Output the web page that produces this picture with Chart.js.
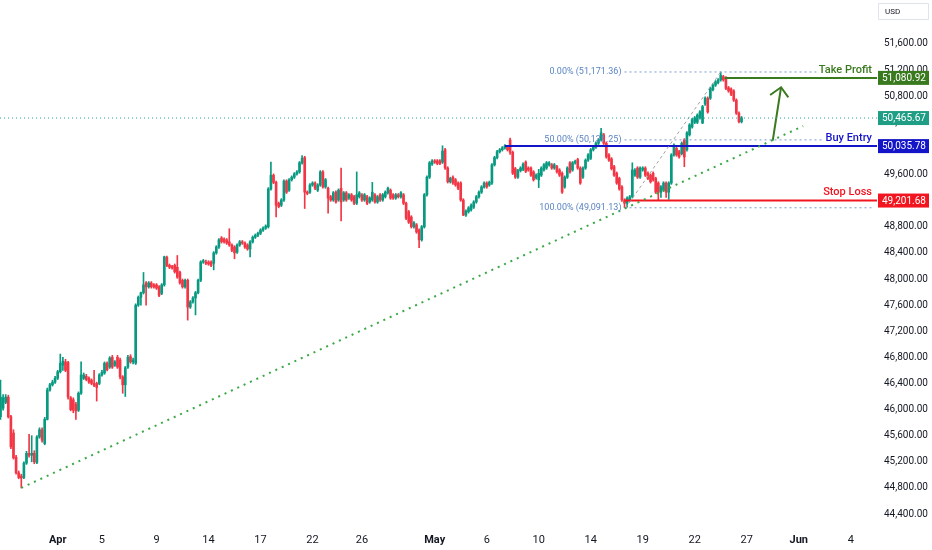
<!DOCTYPE html>
<html>
<head>
<meta charset="utf-8">
<script src="https://cdn.jsdelivr.net/npm/chart.js@4.4.1/dist/chart.umd.min.js"></script>
<style>
  html, body { margin: 0; padding: 0; background: #ffffff; }
  #wrap { width: 932px; height: 550px; position: relative; }
</style>
</head>
<body>
<div id="wrap"><canvas id="chart"></canvas></div>
<script>
// 4h candles (index = candle number)
const opens = [
  45890,46020,46110,46190,45890,45640,45270,45030,44980,44960,
  45180,45330,45300,45330,45190,45580,45690,45480,45850,46300,
  46380,46420,46480,46580,46680,46730,46720,46180,46150,46080,
  45990,46250,46480,46510,46480,46450,46400,46400,46400,46530,
  46560,46710,46650,46800,46680,46800,46760,46500,46380,46650,
  46810,46730,46710,47600,47720,47790,47940,47880,47940,47910,
  47910,47880,47780,47910,48330,48210,48190,48210,48180,48100,
  47980,47880,47980,47570,47650,47710,47790,47980,48260,48260,
  48260,48260,48240,48400,48490,48630,48610,48600,48570,48520,
  48490,48410,48520,48570,48550,48520,48460,48570,48640,48670,
  48700,48750,48780,48800,49380,49590,49480,49160,49130,49210,
  49500,49360,49520,49560,49610,49640,49780,49860,49330,49330,
  49440,49470,49360,49440,49640,49410,49390,49260,49210,49330,
  49210,49390,49210,49320,49240,49290,49260,49160,49260,49290,
  49210,49260,49180,49210,49290,49180,49290,49210,49260,49320,
  49360,49290,49240,49290,49260,49290,49160,49030,48950,48800,
  48830,48750,48600,48800,49290,49560,49760,49810,49810,49810,
  49790,49980,49700,49490,49560,49520,49470,49470,49210,48980,
  49030,49060,49100,49180,49260,49330,49410,49470,49440,49470,
  49750,49860,49950,49980,50010,50020,50130,49940,49690,49560,
  49660,49680,49790,49700,49700,49640,49550,49520,49590,49670,
  49700,49750,49750,49700,49720,49670,49620,49410,49560,49780,
  49670,49780,49830,49700,49560,49700,49820,49850,49980,50020,
  50080,50130,50210,50080,49900,49840,49720,49620,49540,49410,
  49210,49160,49210,49260,49590,49700,49560,49670,49700,49620,
  49590,49620,49540,49470,49330,49360,49470,49330,49470,49900,
  50000,49950,49920,50130,49980,50210,50330,50400,50400,50470,
  50390,50680,50770,50770,50900,50970,51010,51050,51100,51080,
  50930,50910,50880,50740,50540,50410
];
const highs = [
  46450,46230,46230,46220,45910,45690,45300,45060,45010,45200,
  45360,45620,45600,45370,45600,45720,45720,45880,46330,46400,
  46450,46510,46600,46850,46800,46770,46740,46200,46180,46110,
  46270,46730,46560,46540,46500,46470,46600,46420,46550,46600,
  46730,46730,46810,46830,46750,46830,46790,46520,46660,46830,
  46840,46790,47620,47740,47800,48100,47960,47960,47960,47930,
  47930,47900,47930,48350,48350,48230,48210,48230,48360,48120,
  48000,48000,48000,47670,47730,47810,48000,48280,48300,48290,
  48280,48280,48420,48510,48620,48650,48630,48620,48770,48540,
  48510,48540,48590,48590,48570,48540,48590,48660,48690,48720,
  48770,48800,48830,49400,49790,49610,49500,49180,49230,49520,
  49520,49540,49580,49630,49660,49800,49890,49880,49350,49460,
  49490,49490,49460,49660,49660,49540,49410,49280,49340,49350,
  49380,49700,49340,49340,49310,49310,49280,49640,49340,49310,
  49310,49280,49260,49480,49310,49280,49310,49310,49350,49410,
  49380,49310,49310,49310,49340,49310,49180,49050,48970,48880,
  48850,48770,48820,49310,49580,49800,49830,49830,49830,49830,
  50040,50000,49720,49560,49580,49540,49490,49490,49230,49060,
  49110,49150,49200,49280,49350,49430,49490,49490,49500,49770,
  49880,49970,50000,50030,50060,50040,50160,49960,49710,49680,
  49720,49780,49810,49720,49720,49660,49610,49680,49720,49770,
  49800,49800,49770,49770,49740,49690,49640,49580,49720,49800,
  49800,49820,49850,49720,49720,49840,49920,50000,50040,50100,
  50150,50310,50230,50100,49920,49860,49740,49640,49560,49430,
  49230,49260,49280,49780,49690,49720,49720,49720,49720,49640,
  49610,49640,49560,49490,49430,49490,49490,49490,49920,50070,
  50020,49970,50100,50150,50260,50380,50460,50490,50530,50580,
  50660,50790,50790,50940,50990,51040,51070,51171.36,51120,51100,
  50950,50930,50900,50760,50560,50490
];
const lows = [
  45850,45990,46090,45870,45400,45240,45010,44940,44800,44940,
  45160,45270,45200,45170,45170,45560,45500,45460,45840,46280,
  46360,46400,46460,46560,46600,46580,46160,45980,45950,45850,
  45970,46230,46460,46440,46400,46380,46350,46130,46380,46510,
  46540,46590,46630,46630,46660,46630,46470,46250,46200,46630,
  46710,46700,46690,47580,47600,47770,47600,47860,47860,47860,
  47840,47730,47760,47890,48190,48160,48150,48090,48010,47920,
  47860,47860,47370,47550,47630,47450,47770,47960,48240,48220,
  48210,48190,48140,48380,48470,48550,48550,48530,48500,48420,
  48310,48390,48500,48530,48470,48440,48340,48550,48620,48650,
  48680,48730,48760,48780,49360,49460,48950,49090,49110,49190,
  49310,49340,49500,49540,49590,49620,49760,49080,49290,49310,
  49420,49370,49340,49420,49390,49390,49010,49190,49190,49160,
  49190,48890,49190,49190,49220,49190,49140,49140,49240,49190,
  49190,49140,49160,49190,49160,49160,49190,49190,49240,49300,
  49220,49220,49220,49240,49240,49140,48910,48850,48780,48780,
  48700,48480,48580,48780,49270,49540,49740,49770,49750,49750,
  49770,49680,49470,49470,49450,49420,49370,49190,48970,48960,
  49010,49040,49080,49160,49240,49310,49390,49390,49420,49450,
  49730,49840,49930,49960,49990,49960,49910,49600,49540,49540,
  49640,49660,49630,49650,49570,49500,49530,49400,49570,49650,
  49680,49730,49680,49680,49620,49570,49310,49390,49540,49620,
  49650,49760,49680,49450,49540,49680,49800,49830,49960,50000,
  50060,50110,50060,49850,49800,49670,49570,49450,49360,49190,
  49091.13,49100,49190,49240,49570,49540,49540,49650,49570,49520,
  49470,49500,49310,49200,49250,49340,49250,49220,49450,49880,
  49880,49850,49900,49720,49960,50190,50310,50380,50380,50450,
  50380,50660,50540,50750,50880,50950,50990,51030,51030,50900,
  50860,50810,50720,50520,50390,50390
];
const closes = [
  46190,46180,46190,45890,45430,45260,45030,44960,44950,45180,
  45330,45300,45330,45200,45580,45690,45530,45850,46300,46380,
  46420,46480,46580,46710,46740,46600,46190,46000,45990,45980,
  46250,46530,46530,46460,46420,46400,46370,46340,46530,46570,
  46710,46610,46790,46650,46730,46650,46500,46380,46640,46800,
  46730,46760,47600,47720,47790,47910,47880,47940,47880,47880,
  47860,47750,47910,48340,48210,48180,48170,48110,48030,47940,
  47880,47980,47570,47650,47710,47790,47980,48260,48280,48240,
  48230,48210,48400,48490,48600,48570,48570,48550,48520,48440,
  48400,48520,48570,48550,48490,48460,48570,48640,48670,48700,
  48750,48780,48810,49380,49590,49480,49130,49110,49210,49500,
  49330,49520,49560,49610,49640,49780,49850,49330,49310,49440,
  49470,49390,49440,49640,49410,49520,49240,49210,49320,49180,
  49360,49180,49320,49210,49290,49210,49160,49290,49320,49210,
  49290,49160,49240,49330,49180,49260,49210,49290,49330,49390,
  49240,49240,49290,49260,49320,49160,48930,48870,48800,48860,
  48720,48600,48800,49290,49560,49780,49810,49790,49770,49770,
  49960,49700,49490,49540,49470,49440,49390,49210,48980,49040,
  49090,49130,49180,49260,49330,49410,49470,49410,49480,49750,
  49860,49950,49980,50010,50040,49980,49940,49620,49560,49660,
  49700,49760,49650,49670,49590,49520,49590,49620,49700,49750,
  49780,49780,49700,49750,49640,49590,49330,49560,49700,49640,
  49780,49800,49700,49470,49700,49820,49900,49980,50020,50080,
  50130,50240,50080,49870,49820,49690,49590,49470,49380,49210,
  49160,49240,49260,49670,49670,49560,49700,49700,49590,49540,
  49490,49520,49330,49330,49410,49470,49330,49470,49900,50050,
  49900,49870,50080,49870,50240,50360,50440,50470,50510,50560,
  50640,50770,50560,50920,50970,51020,51050,51120,51050,50920,
  50880,50830,50740,50540,50410,50465.67
];

// time axis labels (candle index where each date label sits)
const xTickIdx  = [22, 39, 60, 80, 100, 120, 139, 167, 187, 207, 227, 247, 267, 287, 307, 327];
const xTickText = ['Apr', '5', '9', '14', '17', '22', '26', 'May', '6', '10', '14', '19', '22', '27', 'Jun', '4'];
const monthLabels = ['Apr', 'May', 'Jun'];

// price axis ticks
const yTickVals = [44400, 44800, 45200, 45600, 46000, 46400, 46800, 47200, 47600,
                   48000, 48400, 48800, 49200, 49600, 50000, 50400, 50800, 51200, 51600];

// visible window
const xMin = -0.19, xMax = 337.1;
const yMin = 44277.5, yMax = 52274;

// trade setup levels
const lastPrice  = 50465.67;
const takeProfit = 51080.92;
const buyEntry   = 50035.78;
const stopLoss   = 49201.68;
const tpStartIdx = 278.5, entryStartIdx = 194, slStartIdx = 240;

// fibonacci retracement
const fibPct    = ['0.00%', '50.00%', '100.00%'];
const fibPrices = [51171.36, 50131.25, 49091.13];
const fibStartIdx = 240, fibEndIdx = 335.5;
const fibLowIdx = 240.5, fibHighIdx = 277;

// rising trend line (dotted)
const trendIdx    = [8, 308.7];
const trendPrices = [44800, 50344];

// projected move arrow
const arrowShaftIdx    = [297, 300.2];
const arrowShaftPrices = [50119, 50937];
const arrowHeadIdx     = [296, 300.2, 303];
const arrowHeadPrices  = [50819, 50937, 50783];

const UP = '#089981', DOWN = '#f23645';
const candleColor = (ctx) => closes[ctx.dataIndex] >= opens[ctx.dataIndex] ? UP : DOWN;

const FONT = "Roboto, 'Liberation Sans', sans-serif";

const fmt = (v) => v.toLocaleString('en-US', { minimumFractionDigits: 2, maximumFractionDigits: 2 });

function lineSet(xs, ys, color, width, dash) {
  return {
    type: 'line',
    data: xs.map((x, i) => ({ x: x, y: ys[i] })),
    borderColor: color,
    borderWidth: width,
    borderDash: dash || [],
    borderCapStyle: 'butt',
    pointRadius: 0,
    fill: false,
    tension: 0,
    order: 0
  };
}

const GREEN_LVL = '#3a7a1e', BLUE_LVL = '#1414c8', RED_LVL = '#f2141e', FIB_COL = '#7b9bd1';

const datasets = [
  {
    type: 'bar',
    data: opens.map((o, i) => ({ x: i, y: [o, closes[i]] })),
    backgroundColor: candleColor,
    barThickness: 2,
    grouped: false,
    order: 1
  },
  {
    type: 'bar',
    data: lows.map((l, i) => ({ x: i, y: [l, highs[i]] })),
    backgroundColor: candleColor,
    barThickness: 1,
    grouped: false,
    order: 2
  },
  lineSet([xMin, xMax], [lastPrice, lastPrice], '#26a69a', 1, [1, 3]),
  lineSet(trendIdx, trendPrices, '#3aa845', 2, [2, 5]),
  lineSet([fibLowIdx, fibHighIdx], [fibPrices[2], fibPrices[0]], '#a0a0a0', 1, [3, 3]),
  lineSet([tpStartIdx, xMax], [takeProfit, takeProfit], GREEN_LVL, 2),
  lineSet([entryStartIdx, xMax], [buyEntry, buyEntry], BLUE_LVL, 2),
  lineSet([slStartIdx, xMax], [stopLoss, stopLoss], RED_LVL, 2),
  lineSet(arrowShaftIdx, arrowShaftPrices, GREEN_LVL, 2),
  lineSet(arrowHeadIdx, arrowHeadPrices, GREEN_LVL, 2)
];
fibPrices.forEach((p) => {
  datasets.push(lineSet([fibStartIdx, fibEndIdx], [p, p], FIB_COL, 1, [2, 3]));
});

// texts, price tags and the currency badge
const overlay = {
  id: 'overlay',
  afterDraw(chart) {
    const { ctx, chartArea } = chart;
    const xs = chart.scales.x, ys = chart.scales.y;
    ctx.save();

    // fib labels
    ctx.font = '9px ' + FONT;
    ctx.fillStyle = '#5b84c4';
    ctx.textAlign = 'right';
    ctx.textBaseline = 'middle';
    const fx = xs.getPixelForValue(fibStartIdx) - 3;
    fibPrices.forEach((p, k) => {
      ctx.fillText(fibPct[k] + ' (' + fmt(p) + ')', fx, ys.getPixelForValue(p));
    });

    // level names
    const names = [
      ['Take Profit', takeProfit, GREEN_LVL],
      ['Buy Entry', buyEntry, BLUE_LVL],
      ['Stop Loss', stopLoss, RED_LVL]
    ];
    ctx.font = '500 11px ' + FONT;
    names.forEach(([txt, p, col]) => {
      const ty = ys.getPixelForValue(p) - 8;
      const w = ctx.measureText(txt).width;
      ctx.fillStyle = '#ffffff';
      ctx.fillRect(872 - w - 2, ty - 6, w + 4, 11);
      ctx.fillStyle = col;
      ctx.fillText(txt, 872, ty);
    });

    // price tags on the axis
    const tags = [
      [takeProfit, GREEN_LVL],
      [lastPrice, '#1f9e85'],
      [buyEntry, BLUE_LVL],
      [stopLoss, RED_LVL]
    ];
    ctx.font = '10px ' + FONT;
    ctx.textAlign = 'left';
    tags.forEach(([p, col]) => {
      const ty = ys.getPixelForValue(p);
      ctx.fillStyle = col;
      ctx.fillRect(chartArea.right + 1, ty - 7, 51, 14);
      ctx.fillStyle = '#ffffff';
      ctx.fillText(fmt(p), chartArea.right + 5, ty + 0.5);
    });

    // currency badge
    ctx.fillStyle = '#ffffff';
    ctx.strokeStyle = '#e0e3eb';
    ctx.lineWidth = 1;
    ctx.beginPath();
    ctx.rect(chartArea.right + 1.5, 3.5, 50, 16);
    ctx.fill();
    ctx.stroke();
    ctx.fillStyle = '#131722';
    ctx.font = '8px ' + FONT;
    ctx.fillText('USD', chartArea.right + 8, 11.5);

    ctx.restore();
  }
};

new Chart(document.getElementById('chart'), {
  type: 'bar',
  data: { datasets: datasets },
  plugins: [overlay],
  options: {
    responsive: true,
    maintainAspectRatio: false,
    animation: false,
    layout: { padding: 0 },
    plugins: { legend: { display: false }, tooltip: { enabled: false } },
    scales: {
      x: {
        type: 'linear',
        min: xMin,
        max: xMax,
        offset: false,
        bounds: 'data',
        grid: { display: false, drawTicks: false, offset: false },
        border: { display: false },
        afterBuildTicks: (s) => { s.ticks = xTickIdx.map((v) => ({ value: v })); },
        afterFit: (s) => { s.height = 28; s.paddingLeft = 0; s.paddingRight = 0; },
        ticks: {
          autoSkip: false,
          maxRotation: 0,
          padding: 12,
          color: '#131722',
          font: (c) => ({
            family: FONT,
            size: 11,
            weight: monthLabels.includes(xTickText[c.index]) ? 'bold' : 'normal'
          }),
          callback: (v, i) => xTickText[i]
        }
      },
      y: {
        position: 'right',
        min: yMin,
        max: yMax,
        beginAtZero: false,
        bounds: 'data',
        grid: { display: false, drawTicks: false },
        border: { display: false },
        afterBuildTicks: (s) => { s.ticks = yTickVals.map((v) => ({ value: v })); },
        afterFit: (s) => { s.width = 55; s.paddingTop = 0; s.paddingBottom = 0; },
        ticks: {
          padding: 7,
          color: '#131722',
          font: { family: FONT, size: 10 },
          callback: (v) => fmt(v)
        }
      }
    }
  }
});
</script>
</body>
</html>
